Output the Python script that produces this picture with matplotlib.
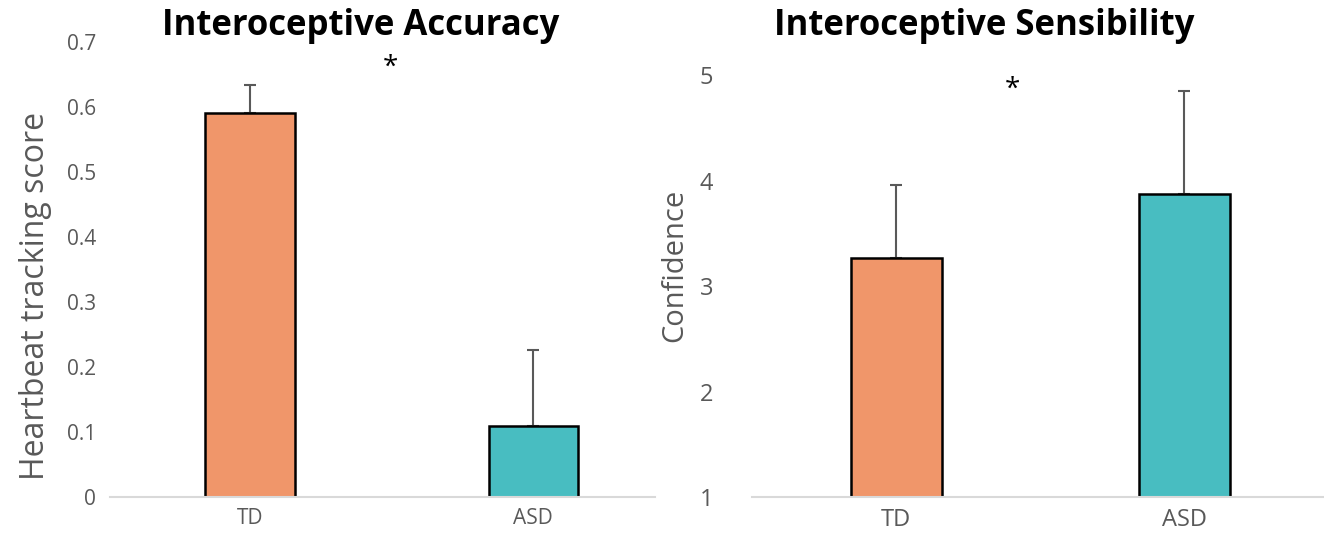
import matplotlib
matplotlib.use("Agg")
import matplotlib.pyplot as plt
import numpy as np

categories = ["TD", "ASD"]
acc_means = [0.591, 0.109]
acc_err = [0.044, 0.118]
sens_means = [3.27, 3.87]
sens_err = [0.69, 0.98]
acc_ticks = [0, 0.1, 0.2, 0.3, 0.4, 0.5, 0.6, 0.7]
acc_ticklabels = ["0", "0.1", "0.2", "0.3", "0.4", "0.5", "0.6", "0.7"]
sens_ticks = [1, 2, 3, 4, 5]

colors = ["#F0966A", "#48BDC1"]
gray = "#595959"

plt.rcParams['font.family'] = ['Open Sans', 'DejaVu Sans']

fig = plt.figure(figsize=(13.24, 5.42), dpi=100)

def panel(rect, means, errs, ylim, ticks, ticklabels, xlim, width, ylabel, title, title_x,
          star_xy, label_x, label_y, label_size, ytick_size, xtick_size, ypad):
    ax = fig.add_axes(rect)
    x = np.arange(len(categories))
    ax.bar(x, means, width=width, color=colors, edgecolor="black", linewidth=1.8, zorder=2)
    ax.errorbar(x, means, yerr=[np.zeros(len(errs)), errs], fmt="none", ecolor=gray,
                elinewidth=1.5, capsize=4, capthick=1.5, zorder=1)
    ax.set_ylim(*ylim)
    ax.set_xlim(*xlim)
    ax.set_yticks(ticks)
    ax.set_yticklabels(ticklabels, color=gray, fontsize=ytick_size)
    ax.set_xticks(x)
    ax.set_xticklabels(categories, color=gray, fontsize=xtick_size)
    ax.tick_params(axis="y", length=0, pad=ypad)
    ax.tick_params(axis="x", length=0, pad=8)
    for s in ["top", "right", "left"]:
        ax.spines[s].set_visible(False)
    ax.spines["bottom"].set_color("#D9D9D9")
    ax.spines["bottom"].set_linewidth(1.5)
    fig.text(label_x, label_y, ylabel, rotation=90, color=gray, fontsize=label_size,
             ha="center", va="center")
    fig.text(title_x, 0.952, title, fontsize=25, fontweight="bold", ha="center", va="center")
    fig.text(star_xy[0], star_xy[1], "*", fontsize=20, ha="center", va="center")
    return ax

panel([0.083, 0.083, 0.412, 0.839], acc_means, acc_err, (0, 0.7), acc_ticks, acc_ticklabels,
      (-0.495, 1.431), 0.315, "Heartbeat tracking score", "Interoceptive Accuracy",
      0.272, (0.295, 0.875), 0.027, 0.454, 23, 15, 15, 10)
panel([0.568, 0.083, 0.432, 0.7786], sens_means, sens_err, (1, 5), sens_ticks,
      [str(t) for t in sens_ticks], (-0.5, 1.486), 0.316, "Confidence",
      "Interoceptive Sensibility", 0.743, (0.765, 0.835), 0.51, 0.511, 21, 17, 17, 28)

fig.savefig("out.png", dpi=100)
